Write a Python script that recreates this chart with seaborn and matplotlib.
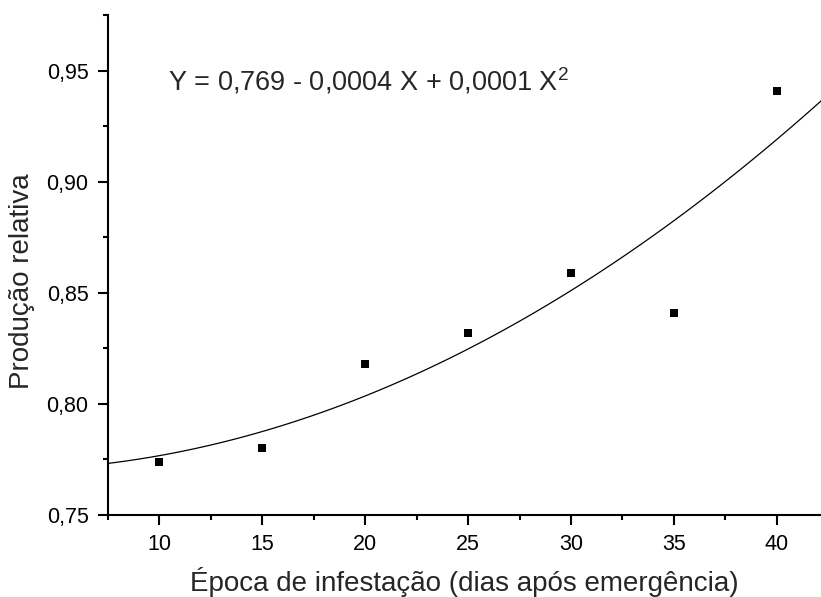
import matplotlib
matplotlib.use("Agg")
import pandas as pd
import seaborn as sns
from matplotlib import pyplot as plt
from matplotlib.ticker import AutoMinorLocator, FuncFormatter, MultipleLocator

# dias após emergência and produção relativa
epoca = [10, 15, 20, 25, 30, 35, 40]
producao = [0.774, 0.780, 0.818, 0.832, 0.859, 0.841, 0.941]
equation = r"Y = 0,769 - 0,0004 X + 0,0001 X$^{\mathregular{2}}$"

sns.set_style("ticks")
plt.rcParams["font.family"] = ["Liberation Sans", "DejaVu Sans"]
plt.rcParams["mathtext.fontset"] = "custom"
plt.rcParams["mathtext.rm"] = "Liberation Sans"

df = pd.DataFrame({"epoca": epoca, "producao": producao})

fig = plt.figure(figsize=(8.21, 5.97), dpi=100)
ax = fig.add_axes([108 / 821, 82 / 597, 713 / 821, 500 / 597])
ax.set_xlim(7.5, 42.15)
ax.set_ylim(0.75, 0.975)

sns.regplot(
    data=df,
    x="epoca",
    y="producao",
    order=2,
    ci=None,
    truncate=False,
    marker="s",
    color="black",
    scatter_kws={"s": 40, "linewidths": 0, "alpha": 1, "zorder": 3},
    line_kws={"lw": 0.9, "color": "black"},
    ax=ax,
)

ax.set_xlim(7.5, 42.15)
ax.set_ylim(0.75, 0.975)
sns.despine(ax=ax)
for side in ["left", "bottom"]:
    ax.spines[side].set_linewidth(1.5)
    ax.spines[side].set_color("black")

ax.xaxis.set_major_locator(MultipleLocator(5))
ax.yaxis.set_major_locator(MultipleLocator(0.05))
ax.xaxis.set_minor_locator(AutoMinorLocator(2))
ax.yaxis.set_minor_locator(AutoMinorLocator(2))
ax.yaxis.set_major_formatter(FuncFormatter(lambda v, p: f"{v:.2f}".replace(".", ",")))
ax.tick_params(which="major", length=7, width=1.5, labelsize=15.5, pad=7, colors="black")
ax.tick_params(which="minor", length=3.6, width=1.5, colors="black")

ax.set_xlabel("Época de infestação (dias após emergência)", fontsize=20, labelpad=8)
ax.set_ylabel("Produção relativa", fontsize=20)
ax.yaxis.set_label_coords(-0.102, 0.468)

ax.text(0.084, 0.85, equation, transform=ax.transAxes, fontsize=19.5, va="baseline", ha="left")

plt.savefig("out.png", dpi=100)
plt.close()
